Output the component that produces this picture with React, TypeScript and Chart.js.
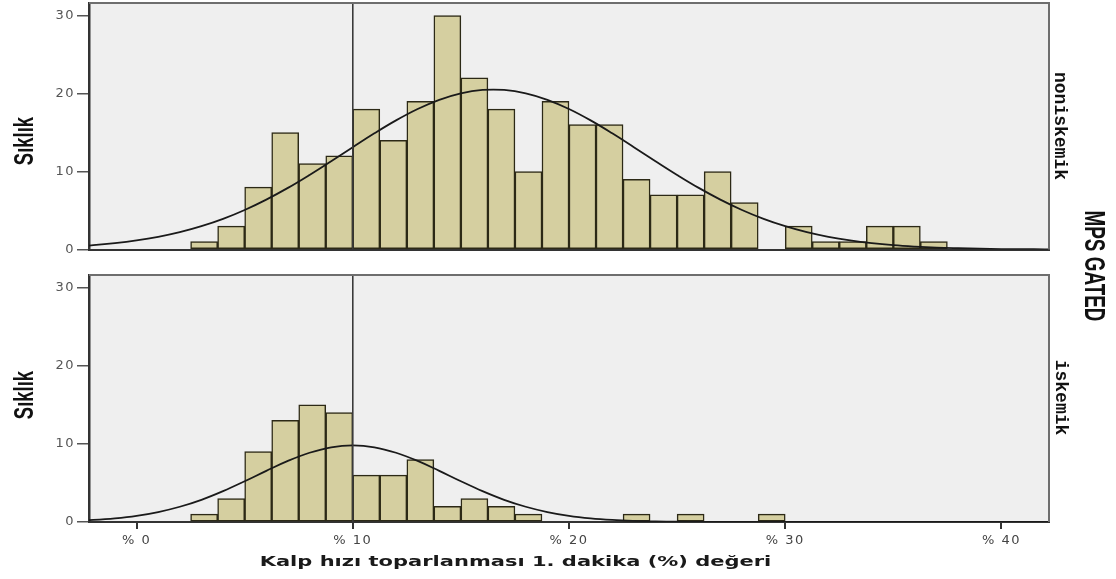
import React, { useEffect, useRef } from 'react';
import { Chart, registerables } from 'chart.js';

Chart.register(...registerables);

// ---------------- data ----------------
const binLowerEdges = [
  2.5, 3.75, 5, 6.25, 7.5, 8.75, 10, 11.25, 12.5, 13.75, 15, 16.25, 17.5, 18.75,
  20, 21.25, 22.5, 23.75, 25, 26.25, 27.5, 28.75, 30, 31.25, 32.5, 33.75, 35, 36.25,
];
const binWidth = 1.25;

const nonIschemicCounts = [
  1, 3, 8, 15, 11, 12, 18, 14, 19, 30, 22, 18, 10, 19,
  16, 16, 9, 7, 7, 10, 6, 0, 3, 1, 1, 3, 3, 1,
];
const ischemicCounts = [
  1, 3, 9, 13, 15, 14, 6, 6, 8, 2, 3, 2, 1, 0,
  0, 0, 1, 0, 1, 0, 0, 1, 0, 0, 0, 0, 0, 0,
];

const curveX = [
  -4, -3, -2, -1, 0, 1, 2, 3, 4, 5, 6, 7, 8, 9, 10, 11, 12, 13, 14, 15, 16, 17, 18, 19, 20,
  21, 22, 23, 24, 25, 26, 27, 28, 29, 30, 31, 32, 33, 34, 35, 36, 37, 38, 39, 40, 41, 42, 43, 44,
];
const nonIschemicCurve = [
  0.24, 0.37, 0.55, 0.81, 1.16, 1.62, 2.22, 2.99, 3.93, 5.07, 6.4, 7.9, 9.56, 11.32, 13.12,
  14.89, 16.55, 18.01, 19.19, 20.02, 20.45, 20.45, 20.02, 19.19, 18.01, 16.55, 14.89, 13.12,
  11.32, 9.56, 7.9, 6.4, 5.07, 3.93, 2.99, 2.22, 1.62, 1.16, 0.81, 0.55, 0.37, 0.24, 0.16,
  0.1, 0.06, 0.04, 0.02, 0.01, 0.01,
];
const ischemicCurve = [
  0.07, 0.14, 0.26, 0.46, 0.78, 1.27, 1.95, 2.84, 3.95, 5.21, 6.54, 7.81, 8.86, 9.56, 9.8,
  9.56, 8.86, 7.81, 6.54, 5.21, 3.95, 2.84, 1.95, 1.27, 0.78, 0.46, 0.26, 0.14, 0.07, 0.03,
  0.02, 0.01, 0, 0, 0, 0, 0, 0, 0, 0, 0, 0, 0, 0, 0, 0, 0, 0, 0,
];

const xTicks = [0, 10, 20, 30, 40];
const yTicks = [0, 10, 20, 30];
const xMin = -2.2;
const xMax = 42.2;
const yMax = 31.6;
const referenceLineX = 10;

const yAxisTitle = 'Sıklık';
const xAxisTitle = 'Kalp hızı toparlanması 1. dakika (%) değeri';
const panelLabels = ['noniskemik', 'iskemik'];
const facetTitle = 'MPS GATED';

// ---------------- drawing helpers ----------------
type TextItem = {
  text: string;
  x: number;
  y: number;
  rotate?: number;
  font: string;
  color?: string;
  sx?: number;
  sy?: number;
  align?: CanvasTextAlign;
  baseline?: CanvasTextBaseline;
};

function drawText(ctx: CanvasRenderingContext2D, t: TextItem) {
  ctx.save();
  ctx.translate(t.x, t.y);
  if (t.rotate) ctx.rotate(t.rotate);
  ctx.scale(t.sx ?? 1, t.sy ?? 1);
  ctx.font = t.font;
  ctx.fillStyle = t.color ?? '#111';
  ctx.textAlign = t.align ?? 'center';
  ctx.textBaseline = t.baseline ?? 'alphabetic';
  ctx.fillText(t.text, 0, 0);
  ctx.restore();
}

const panelDecor = {
  id: 'panelDecor',
  beforeDraw(chart: any, _args: any, opts: any) {
    const { ctx, chartArea: a } = chart;
    ctx.save();
    ctx.fillStyle = opts.background;
    ctx.fillRect(a.left, a.top, a.right - a.left, a.bottom - a.top);
    ctx.restore();
    (ctx as any).letterSpacing = opts.tickSpacing || '0px';
  },
  afterDatasetsDraw(chart: any, _args: any, opts: any) {
    const { ctx, chartArea: a } = chart;
    const x = chart.scales.x.getPixelForValue(opts.refX);
    ctx.save();
    ctx.strokeStyle = '#3a3a3a';
    ctx.lineWidth = 1.6;
    ctx.beginPath();
    ctx.moveTo(x, a.top);
    ctx.lineTo(x, a.bottom);
    ctx.stroke();
    // top and right frame
    ctx.strokeStyle = '#6e6e6e';
    ctx.lineWidth = 2;
    ctx.beginPath();
    ctx.moveTo(a.left, a.top);
    ctx.lineTo(a.right, a.top);
    ctx.lineTo(a.right, a.bottom);
    ctx.stroke();
    ctx.restore();
  },
  afterDraw(chart: any, _args: any, opts: any) {
    const ctx = chart.ctx;
    (ctx as any).letterSpacing = '0px';
    (opts.texts || []).forEach((t: TextItem) => drawText(ctx, t));
  },
};

function panelConfig(
  counts: number[],
  curve: number[],
  isBottom: boolean,
  texts: TextItem[],
): any {
  const areaTop = isBottom ? 275 : 3;
  const areaBottom = isBottom ? 522 : 249.5;
  const xAxisHeight = isBottom ? 30 : 0;
  return {
    type: 'bar',
    data: {
      datasets: [
        {
          type: 'line',
          data: curveX.map((x, i) => ({ x, y: curve[i] })),
          borderColor: '#1a1a1a',
          borderWidth: 1.8,
          pointRadius: 0,
          tension: 0.4,
          fill: false,
          order: 0,
        },
        {
          type: 'bar',
          data: binLowerEdges.map((e, i) => ({ x: e + binWidth / 2, y: counts[i] })),
          backgroundColor: '#D5CFA0',
          borderColor: '#2c2916',
          borderWidth: 1.5,
          borderSkipped: false,
          barPercentage: 1,
          categoryPercentage: 1,
          order: 1,
        },
      ],
    },
    options: {
      responsive: false,
      animation: false,
      devicePixelRatio: 1,
      events: [],
      layout: {
        autoPadding: false,
        padding: { left: 0, right: 1116 - 1049, top: areaTop, bottom: 579 - areaBottom - xAxisHeight },
      },
      plugins: {
        legend: { display: false },
        tooltip: { enabled: false },
        title: { display: false },
        panelDecor: {
          background: '#EFEFEF',
          refX: referenceLineX,
          tickSpacing: '1.5px',
          texts,
        },
      },
      scales: {
        x: {
          type: 'linear',
          min: xMin,
          max: xMax,
          offset: false,
          afterBuildTicks: (s: any) => {
            s.ticks = xTicks.map((v) => ({ value: v }));
          },
          afterFit: (s: any) => {
            s.height = xAxisHeight;
            s.paddingLeft = 0;
            s.paddingRight = 0;
          },
          ticks: {
            display: isBottom,
            autoSkip: false,
            maxRotation: 0,
            padding: 4,
            color: '#444',
            font: { family: '"DejaVu Sans", sans-serif', size: 13 },
            callback: (v: any) => '% ' + v,
          },
          grid: {
            display: isBottom,
            offset: false,
            drawOnChartArea: false,
            drawTicks: true,
            tickLength: 7,
            color: '#333',
            lineWidth: 2,
          },
          border: { display: true, color: '#333', width: 2 },
        },
        y: {
          min: 0,
          max: yMax,
          afterBuildTicks: (s: any) => {
            s.ticks = yTicks.map((v) => ({ value: v }));
          },
          afterFit: (s: any) => {
            s.width = 89;
            s.paddingTop = 0;
            s.paddingBottom = 0;
          },
          ticks: {
            padding: 2,
            color: '#555',
            font: { family: '"DejaVu Sans", sans-serif', size: 13 },
          },
          grid: {
            drawOnChartArea: false,
            drawTicks: true,
            tickLength: 12,
            color: '#555',
            lineWidth: 1.5,
          },
          border: { display: true, color: '#333', width: 2.5 },
        },
      },
    },
    plugins: [panelDecor],
  };
}

const sansBold = (px: number) => `bold ${px}px "Liberation Sans", Arial, sans-serif`;
const monoFont = (px: number) => `bold ${px}px "Liberation Mono", "Courier New", monospace`;

const topTexts: TextItem[] = [
  { text: yAxisTitle, x: 33, y: 141, rotate: -Math.PI / 2, font: sansBold(28), sx: 0.66 },
  { text: panelLabels[0], x: 1055, y: 126, rotate: Math.PI / 2, font: monoFont(18) },
  { text: facetTitle, x: 1085, y: 266, rotate: Math.PI / 2, font: sansBold(30), sx: 0.63 },
];

const bottomTexts: TextItem[] = [
  { text: yAxisTitle, x: 33, y: 395, rotate: -Math.PI / 2, font: sansBold(28), sx: 0.66 },
  { text: panelLabels[1], x: 1056, y: 397.5, rotate: Math.PI / 2, font: monoFont(18) },
  { text: xAxisTitle, x: 515.5, y: 566, font: 'bold 21px "DejaVu Sans", Verdana, sans-serif', sy: 0.7, color: '#1a1a1a' },
];

export default function App() {
  const topRef = useRef<HTMLCanvasElement>(null);
  const bottomRef = useRef<HTMLCanvasElement>(null);

  useEffect(() => {
    const bottom = new Chart(bottomRef.current as HTMLCanvasElement, panelConfig(ischemicCounts, ischemicCurve, true, bottomTexts));
    const top = new Chart(topRef.current as HTMLCanvasElement, panelConfig(nonIschemicCounts, nonIschemicCurve, false, topTexts));
    return () => {
      top.destroy();
      bottom.destroy();
    };
  }, []);

  return (
    <div style={{ position: 'fixed', left: 0, top: 0, width: 1116, height: 579, background: '#ffffff' }}>
      <canvas ref={bottomRef} width={1116} height={579} style={{ position: 'absolute', left: 0, top: 0 }} />
      <canvas ref={topRef} width={1116} height={579} style={{ position: 'absolute', left: 0, top: 0 }} />
    </div>
  );
}
